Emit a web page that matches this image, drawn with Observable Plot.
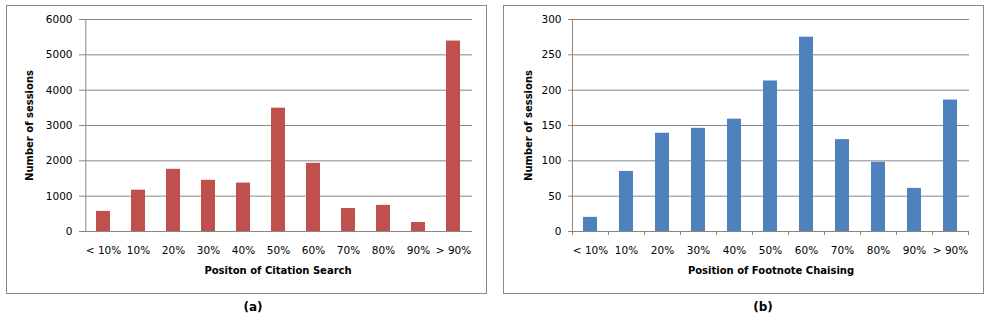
<!DOCTYPE html>
<html><head><meta charset="utf-8">
<script src="https://cdn.jsdelivr.net/npm/d3@7"></script>
<script src="https://cdn.jsdelivr.net/npm/@observablehq/plot@0.6"></script>
<style>
body{margin:0;background:#fff;}
#wrap{position:relative;width:992px;height:324px;overflow:hidden;}
.panel{position:absolute;border:1px solid #8a8a8a;box-sizing:border-box;pointer-events:none;background:transparent;}
.cap{position:absolute;font:bold 12px "DejaVu Sans",sans-serif;color:#000;transform:translate(-50%,-50%);}
.chart{position:absolute;top:0;}
.chart svg{font-family:"DejaVu Sans",sans-serif;font-size:10.5px;color:#000;}
.chart g[aria-label="y-axis tick"] path, .chart g[aria-label="x-axis tick"] path{stroke:#868686;}
.chart g[aria-label="y-axis label"], .chart g[aria-label="x-axis label"]{font-weight:bold;font-size:10px;}
</style></head>
<body><div id="wrap">
<div class="chart" id="ca" style="left:0px"></div>
<div class="chart" id="cb" style="left:496px"></div>
<div class="panel" style="left:6px;top:5px;width:481px;height:289px"></div>
<div class="panel" style="left:503px;top:5px;width:481px;height:289px"></div>
<div class="cap" style="left:253px;top:307px">(a)</div>
<div class="cap" style="left:763px;top:307px">(b)</div>
</div>
<script>
const categories = ["< 10%","10%","20%","30%","40%","50%","60%","70%","80%","90%","> 90%"];
const citationSearch = [570,1170,1760,1450,1370,3490,1930,650,740,255,5390];
const footnoteChasing = [20,85,139,146,159,213,275,130,98,61,186];
const citationTicks = [0,1000,2000,3000,4000,5000,6000];
const footnoteTicks = [0,50,100,150,200,250,300];

function makeChart(values, yTicks, color, xLabel, mLeft, mRight, yLabelOffset, edgeTicks) {
  const W = 496, H = 300, mTop = 19, mBottom = 69;
  const step = (W - mLeft - mRight) / categories.length;
  const data = categories.map((c, i) => ({cat: c, v: values[i]}));
  const marks = [
    Plot.ruleY(yTicks, {stroke: "#868686", strokeWidth: 1}),
    Plot.ruleX([categories[0]], {stroke: "#868686", dx: -step / 2}),
    Plot.barY(data, {x: "cat", y: "v", fill: color}),
    Plot.axisY({ticks: yTicks, tickFormat: "d", tickSize: 4, tickPadding: 7, label: "Number of sessions", labelAnchor: "center", labelOffset: yLabelOffset, labelArrow: "none"}),
    Plot.axisX({tickSize: 0, tickPadding: 15, label: xLabel, labelAnchor: "center", labelOffset: 42, labelArrow: "none"})
  ];
  if (edgeTicks) {
    marks.push(Plot.axisX({tickSize: 4, tickFormat: () => "", label: null, dx: -step / 2}));
    marks.push(Plot.axisX({ticks: [categories[categories.length - 1]], tickSize: 4, tickFormat: () => "", label: null, dx: step / 2}));
  }
  return Plot.plot({
    width: W, height: H,
    marginLeft: mLeft, marginRight: mRight, marginTop: mTop, marginBottom: mBottom,
    style: {background: "transparent"},
    x: {domain: categories, paddingInner: 0.6, paddingOuter: 0.3},
    y: {domain: [yTicks[0], yTicks[yTicks.length - 1]]},
    marks
  });
}

document.getElementById("ca").append(makeChart(citationSearch, citationTicks, "#C0504D", "Positon of Citation Search", 83, 24, 58, false));
document.getElementById("cb").append(makeChart(footnoteChasing, footnoteTicks, "#4F81BD", "Position of Footnote Chaising", 76, 23, 48, true));
</script>
</body></html>
